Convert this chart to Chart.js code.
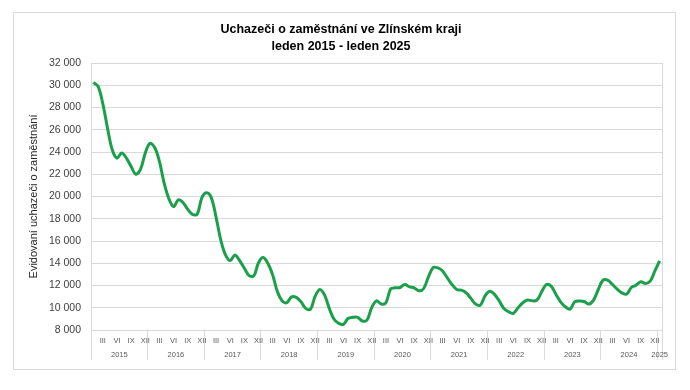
<!DOCTYPE html>
<html><head><meta charset="utf-8">
<script src="https://cdn.jsdelivr.net/npm/chart.js@4/dist/chart.umd.min.js"></script>
<style>html,body{margin:0;padding:0;background:#fff;}#wrap{position:relative;width:690px;height:390px;}</style>
</head><body><div id="wrap"><canvas id="c" width="690" height="390"></canvas></div>
<script>
const years = ['2015','2016','2017','2018','2019','2020','2021','2022','2023','2024','2025'];
const romanMonths = ['I','II','III','IV','V','VI','VII','VIII','IX','X','XI','XII'];
const shownMonths = ['III','VI','IX','XII'];
const yTicks = [8000, 32000, 2000]; // min, max, step

const v2015 = [30250, 29900, 28350, 26150, 24200, 23450, 23900, 23450, 22700, 22000, 22450, 23900];
const v2016 = [24780, 24400, 23150, 21200, 19800, 19100, 19700, 19450, 18850, 18400, 18400, 19900];
const v2017 = [20330, 19880, 18150, 16090, 14750, 14240, 14750, 14240, 13550, 12890, 12860, 14050];
const v2018 = [14510, 13970, 12950, 11450, 10620, 10450, 10980, 10930, 10530, 9950, 9850, 11040];
const v2019 = [11640, 11130, 9940, 8960, 8600, 8510, 9050, 9140, 9140, 8810, 8900, 10030];
const v2020 = [10620, 10330, 10450, 11700, 11790, 11820, 12090, 11880, 11790, 11520, 11730, 12770];
const v2021 = [13610, 13580, 13310, 12680, 12090, 11640, 11580, 11340, 10840, 10330, 10240, 11070];
const v2022 = [11490, 11200, 10620, 9940, 9640, 9500, 10000, 10450, 10690, 10620, 10690, 11430];
const v2023 = [12090, 11940, 11220, 10530, 10090, 9880, 10530, 10600, 10560, 10330, 10690, 11640];
const v2024 = [12480, 12480, 12090, 11670, 11340, 11220, 11820, 12030, 12330, 12180, 12390, 13310];
const v2025 = [14210];

const seriesByYear = [v2015, v2016, v2017, v2018, v2019, v2020, v2021, v2022, v2023, v2024, v2025];
const categories = [];
const values = [];
const yearCenters = [];
seriesByYear.forEach((arr, yi) => {
  const start = categories.length;
  arr.forEach((v, m) => { categories.push(romanMonths[m] + ' ' + years[yi]); values.push(v); });
  yearCenters.push((start + categories.length - 1) / 2);
});

const FONT = "'Liberation Sans', Arial, sans-serif";
const GRID = '#d9d9d9';
const fmt = v => String(v).replace(/\B(?=(\d{3})+(?!\d))/g, ' ');

const frame = {
  id: 'frame',
  beforeDraw(chart) {
    const c = chart.ctx;
    c.save();
    c.fillStyle = '#fff';
    c.fillRect(0, 0, chart.width, chart.height);
    c.strokeStyle = GRID;
    c.lineWidth = 1;
    c.strokeRect(13.5, 12.5, 662, 357);
    c.restore();
  }
};

new Chart(document.getElementById('c'), {
  type: 'line',
  data: {
    labels: categories,
    datasets: [{
      label: 'Evidovaní uchazeči o zaměstnání',
      data: values,
      borderColor: '#1aa04a',
      borderWidth: 3,
      pointRadius: 0,
      tension: 0.35,
      fill: false
    }]
  },
  options: {
    responsive: false,
    animation: false,
    layout: { padding: { left: 20, right: 28, top: 12, bottom: 28 } },
    plugins: {
      legend: { display: false },
      tooltip: { enabled: false },
      title: {
        display: true,
        text: ['Uchazeči o zaměstnání ve Zlínském kraji', 'leden 2015 - leden 2025'],
        font: { family: FONT, size: 12.5, weight: 'bold', lineHeight: 1.36 },
        color: '#000',
        padding: { top: 9, bottom: 8 }
      }
    },
    scales: {
      x: {
        type: 'category', position: 'bottom', weight: 0, offset: true,
        grid: {
          offset: true, drawOnChartArea: false, drawTicks: true, tickLength: 30, lineWidth: 1,
          color: ctx => (ctx.index === undefined || ctx.index % 12 === 0) ? GRID : 'rgba(0,0,0,0)'
        },
        border: { display: true, color: GRID },
        ticks: {
          autoSkip: false, maxRotation: 0, minRotation: 0, padding: -24,
          font: { family: FONT, size: 7.5 }, color: '#595959',
          callback: function (value, index) {
            const m = categories[index].split(' ')[0];
            return shownMonths.includes(m) ? m : '';
          }
        },
        afterFit: s => { s.height = 16; }
      },
      x2: {
        type: 'linear', position: 'bottom', weight: 1, min: -0.5, max: categories.length - 0.5,
        grid: { display: false, drawTicks: false }, border: { display: false },
        afterBuildTicks: s => { s.ticks = yearCenters.map(v => ({ value: v })); },
        ticks: {
          autoSkip: false, maxRotation: 0, minRotation: 0, padding: 4,
          font: { family: FONT, size: 7.5 }, color: '#595959',
          callback: (v, i) => years[i]
        },
        afterFit: s => { s.height = 16; }
      },
      y: {
        min: yTicks[0], max: yTicks[1],
        ticks: { stepSize: yTicks[2], padding: 10, font: { family: FONT, size: 10.5 }, color: '#404040', callback: v => fmt(v) },
        grid: { color: GRID, drawTicks: false },
        border: { display: true, color: GRID },
        title: { display: true, text: 'Evidovaní uchazeči o zaměstnání', font: { family: FONT, size: 11 }, color: '#262626', padding: { top: 7, bottom: 0 } },
        afterFit: s => { s.width = 71; }
      },
      y2: {
        type: 'linear', position: 'right', display: true,
        ticks: { display: false },
        grid: { drawOnChartArea: false, drawTicks: false },
        border: { display: true, color: GRID },
        afterFit: s => { s.width = 0; }
      }
    }
  },
  plugins: [frame]
});
</script>
</body></html>
